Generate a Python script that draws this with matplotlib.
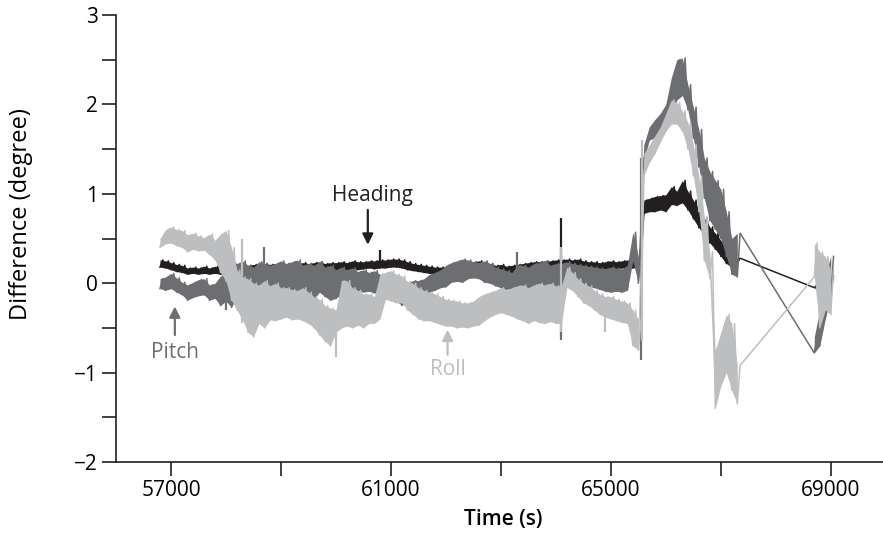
import numpy as np
import matplotlib.pyplot as plt

plt.rcParams['font.family'] = ['Open Sans', 'DejaVu Sans']

# sample times (s) of the envelope readings, main block and the block after the gap
t_main = np.arange(56800, 67301, 100)
t_end = np.array([68700, 68800, 68900, 69000])

# heading difference (deg): lower / upper edge of the noisy trace
heading_lo = [.18, .17, .15, .13, .12, .10, .11, .10, .11, .10,
              .11, .10, .11, .12, .12, .11, .12, .13, .13, .14,
              .13, .14, .14, .14, .15, .14, .15, .14, .15, .15,
              .14, .15, .15, .16, .15, .16, .15, .16, .17, .16,
              .17, .17, .18, .18, .17, .15, .14, .13, .12, .11,
              .10, .10, .10, .11, .12, .14, .15, .15, .14, .15,
              .12, .11, .12, .10, .11, .12, .13, .14, .15, .16,
              .16, .17, .17, .17, .18, .17, .18, .16, .16, .15,
              .15, .16, .16, .16, .17, .17, .17, .18, .78, .80,
              .80, .82, .80, .88, .87, .90, .82, .72, .62, .55,
              .45, .38, .30, .22, .18, .22]
heading_hi = [.26, .25, .23, .21, .20, .17, .18, .17, .19, .17,
              .19, .17, .18, .19, .20, .19, .20, .21, .20, .22,
              .21, .22, .22, .22, .23, .22, .23, .22, .23, .24,
              .22, .23, .23, .24, .23, .25, .24, .24, .25, .25,
              .26, .26, .27, .27, .26, .24, .22, .21, .20, .19,
              .18, .18, .18, .19, .20, .22, .23, .24, .25, .24,
              .22, .20, .21, .19, .20, .21, .22, .23, .24, .24,
              .25, .25, .26, .26, .27, .26, .27, .25, .24, .24,
              .23, .24, .25, .24, .25, .26, .26, .27, .93, .95,
              .97, .98, .99, 1.08, 1.03, 1.15, 1.03, .93, .83, .73,
              .63, .56, .48, .41, .34, .28]
heading_end_lo = [-.05, -.10, -.06, -.08]
heading_end_hi = [-.03, .05, .08, .08]
# narrow spikes: time, bottom, top
heading_spike_t = [60800, 64100]
heading_spike_lo = [.17, -.10]
heading_spike_hi = [.37, .73]

# pitch difference (deg)
pitch_lo = [-.06, -.08, -.06, -.10, -.13, -.19, -.16, -.14, -.13, -.19,
            -.17, -.25, -.20, -.27, -.15, -.12, -.05, -.10, -.08, -.05,
            -.10, -.10, -.10, -.05, -.12, -.08, -.15, -.12, -.18, -.10,
            -.15, -.19, -.17, -.12, -.10, -.11, -.08, -.10, -.09, -.11,
            -.10, -.12, -.14, -.20, -.25, -.20, -.15, -.15, -.12, -.10,
            -.08, -.05, -.04, .01, .02, .01, .05, .06, .05, .01,
            .00, -.03, -.05, -.07, -.06, -.05, -.06, -.05, -.08, -.03,
            -.05, -.08, -.06, -.04, .00, .02, .00, -.02, -.04, -.05,
            -.07, -.09, -.10, -.09, -.10, -.08, .25, .00, 1.38, 1.60,
            1.63, 1.70, 1.78, 1.85, 2.05, 2.10, 1.94, 1.62, 1.30, .95,
            .70, .60, .50, .30, .10, .07]
pitch_hi = [.05, .07, .11, .06, .01, -.02, .01, .04, .05, -.02,
            .00, .08, .12, .26, .22, .25, .20, .18, .24, .22,
            .20, .22, .25, .22, .24, .26, .20, .22, .20, .24,
            .18, .20, .15, .18, .15, .17, .13, .15, .12, .14,
            .10, .05, .02, -.02, -.10, .00, .03, .03, .05, .10,
            .12, .15, .20, .23, .25, .27, .26, .24, .23, .25,
            .22, .18, .16, .14, .12, .20, .20, .18, .22, .23,
            .25, .20, .22, .22, .24, .22, .21, .20, .19, .18,
            .17, .16, .18, .17, .16, .20, .57, .30, 1.55, 1.75,
            1.83, 1.90, 2.00, 2.30, 2.50, 2.52, 2.22, 1.97, 1.72, 1.40,
            1.25, 1.15, 1.05, .80, .50, .56]
pitch_end_lo = [-.78, -.70, -.40, -.15]
pitch_end_hi = [-.60, -.30, .10, .30]
pitch_spike_t = [58000, 58200, 58500, 58700, 58900, 63300, 64100, 65550]
pitch_spike_lo = [-.30, -.28, -.30, .10, -.28, .10, -.64, -.86]
pitch_spike_hi = [.15, .20, .10, .40, .10, .35, .30, 1.40]

# roll difference (deg)
roll_lo = [.40, .44, .45, .42, .40, .35, .38, .36, .37, .32,
           .26, .12, .02, -.19, -.30, -.41, -.55, -.60, -.45, -.50,
           -.41, -.42, -.40, -.38, -.41, -.40, -.42, -.45, -.50, -.58,
           -.65, -.70, -.55, -.50, -.48, -.50, -.47, -.50, -.45, -.45,
           -.40, -.18, -.20, -.22, -.22, -.30, -.35, -.40, -.42, -.42,
           -.44, -.46, -.48, -.48, -.50, -.49, -.50, -.48, -.47, -.42,
           -.38, -.35, -.33, -.35, -.37, -.40, -.42, -.45, -.42, -.44,
           -.45, -.43, -.45, -.45, -.05, -.08, -.15, -.22, -.25, -.30,
           -.35, -.38, -.40, -.42, -.44, -.45, -.70, -.75, 1.20, 1.35,
           1.45, 1.58, 1.70, 1.78, 1.78, 1.70, 1.50, 1.20, .80, .25,
           .05, -1.40, -1.15, -1.00, -1.20, -1.35]
roll_hi = [.50, .60, .63, .60, .59, .54, .56, .53, .51, .55,
           .48, .55, .59, .40, .15, .07, .05, .00, -.02, .03,
           -.03, .00, -.05, -.05, -.07, -.08, -.05, -.10, -.15, -.18,
           -.25, -.28, -.30, .03, .03, -.05, -.08, -.12, -.12, -.15,
           .10, .12, .14, .10, .08, .02, .00, -.05, -.08, -.10,
           -.12, -.15, -.18, -.19, -.20, -.22, -.22, -.20, -.15, -.12,
           -.10, -.08, -.05, -.08, -.05, -.03, -.02, -.05, -.02, .00,
           -.02, .00, -.03, -.03, .18, .12, .05, .00, -.03, -.08,
           -.12, -.15, -.15, -.18, -.20, -.22, -.30, -.40, 1.45, 1.55,
           1.65, 1.75, 1.90, 2.05, 2.02, 1.93, 1.80, 1.55, 1.20, .75,
           .35, -.75, -.55, -.35, -.45, -.92]
roll_end_lo = [.07, -.50, -.30, -.35]
roll_end_hi = [.45, .35, .30, .15]
roll_spike_t = [58300, 60000, 64100, 64900, 65560]
roll_spike_lo = [-.45, -.83, -.55, -.55, -.65]
roll_spike_hi = [.50, -.40, .40, -.15, 1.60]

c_heading = '#231f20'
c_pitch = '#6d6e71'
c_roll = '#bcbec0'


def draw_trace(ax, lo, hi, end_lo, end_hi, sp_t, sp_lo, sp_hi, color, z):
    # solid band between the edges, plus a line walking both edges
    for t, a, b in [(t_main, lo, hi), (t_end, end_lo, end_hi)]:
        ax.fill_between(t, a, b, color=color, lw=0, zorder=z)
    t = np.concatenate([t_main, t_end])
    low = np.concatenate([lo, end_lo])
    high = np.concatenate([hi, end_hi])
    x = np.column_stack([t, t + 50]).ravel()
    y = np.column_stack([low, high]).ravel()
    ax.plot(x, y, color=color, lw=1.1, zorder=z)
    ax.vlines(sp_t, sp_lo, sp_hi, color=color, lw=1.6, zorder=z)


fig = plt.figure(figsize=(8.83, 5.34), dpi=100)
ax = fig.add_axes([116 / 883, 1 - 462 / 534, 767 / 883, 447 / 534])

draw_trace(ax, heading_lo, heading_hi, heading_end_lo, heading_end_hi,
           heading_spike_t, heading_spike_lo, heading_spike_hi, c_heading, 2)
draw_trace(ax, pitch_lo, pitch_hi, pitch_end_lo, pitch_end_hi,
           pitch_spike_t, pitch_spike_lo, pitch_spike_hi, c_pitch, 3)
draw_trace(ax, roll_lo, roll_hi, roll_end_lo, roll_end_hi,
           roll_spike_t, roll_spike_lo, roll_spike_hi, c_roll, 4)

# labels with arrows
arrow = dict(arrowstyle='-|>', lw=1.6, shrinkA=0, shrinkB=0, mutation_scale=16)
ax.text(60670, 0.98, 'Heading', ha='center', va='center', fontsize=15, color=c_heading)
ax.annotate('', xy=(60580, 0.43), xytext=(60580, 0.82),
            arrowprops=dict(arrow, color=c_heading))
ax.text(57070, -0.77, 'Pitch', ha='center', va='center', fontsize=15, color=c_pitch)
ax.annotate('', xy=(57070, -0.26), xytext=(57070, -0.58),
            arrowprops=dict(arrow, color=c_pitch))
ax.text(62030, -0.97, 'Roll', ha='center', va='center', fontsize=15, color=c_roll)
ax.annotate('', xy=(62030, -0.52), xytext=(62030, -0.80),
            arrowprops=dict(arrow, color=c_roll))

ax.set_xlim(56000, 69950)
ax.set_ylim(-2, 3)
ax.set_xticks([57000, 59000, 61000, 63000, 65000, 67000, 69000])
ax.set_xticklabels(['57000', '', '61000', '', '65000', '', '69000'])
ax.set_yticks([-2, -1.5, -1, -0.5, 0, 0.5, 1, 1.5, 2, 2.5, 3])
ax.set_yticklabels(['\u22122', '', '\u22121', '', '0', '', '1', '', '2', '', '3'])
ax.tick_params(direction='out', length=10, width=1.2, labelsize=15, pad=3, color='#231f20')

for side in ['top', 'right']:
    ax.spines[side].set_visible(False)
for side in ['left', 'bottom']:
    ax.spines[side].set_linewidth(1.2)
    ax.spines[side].set_color('#231f20')

ax.set_xlabel('Time (s)', fontsize=15, fontweight='semibold')
ax.xaxis.set_label_coords(0.505, -0.105)
ax.set_ylabel('Difference (degree)', fontsize=17)
ax.yaxis.set_label_coords(-0.108, 0.555)

fig.savefig('out.png', dpi=100)
